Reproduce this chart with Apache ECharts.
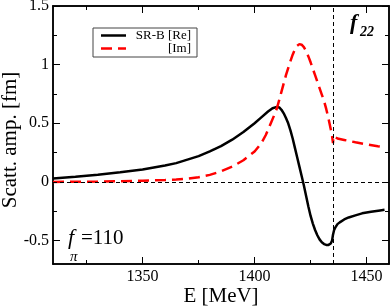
<!DOCTYPE html>
<html>
<head>
<meta charset="utf-8">
<script src="https://cdn.jsdelivr.net/npm/echarts@6/dist/echarts.min.js"></script>
<style>html,body{margin:0;padding:0;background:#fff;}#c{width:390px;height:306px;}</style>
</head>
<body>
<div id="c"></div>
<script>
// Energies (MeV) and amplitudes (fm)
var energyRe = [1310,1320,1330,1340,1350,1360,1365,1370,1375,1380,1385,1390,1395,1400,1403,1406,1408,1410,1411,1412,1413,1414,1415,1416,1417,1418,1419,1420,1421,1422,1423,1424,1425,1426,1427,1428,1429,1430,1431,1432,1433,1434,1434.6,1435,1435.5,1436,1437,1438,1440,1442,1445,1448,1452,1456,1458];
var ampRe    = [0.03,0.045,0.062,0.082,0.105,0.14,0.16,0.19,0.22,0.26,0.305,0.36,0.425,0.5,0.55,0.6,0.628,0.64,0.635,0.615,0.585,0.545,0.5,0.44,0.37,0.29,0.21,0.13,0.05,-0.03,-0.12,-0.21,-0.29,-0.355,-0.41,-0.455,-0.49,-0.515,-0.53,-0.537,-0.537,-0.525,-0.5,-0.45,-0.41,-0.39,-0.36,-0.345,-0.32,-0.303,-0.285,-0.268,-0.255,-0.243,-0.238];
var energyIm = [1310,1320,1330,1340,1350,1360,1365,1370,1375,1380,1385,1390,1395,1400,1403,1405,1407,1409,1410,1411,1412,1413,1414,1415,1416,1417,1418,1419,1420,1421,1422,1423,1424,1425,1426,1427,1428,1429,1430,1431,1432,1433,1434,1434.6,1435,1435.2,1437,1440,1445,1450,1455,1458];
var ampIm    = [0.0,0.001,0.003,0.006,0.01,0.016,0.02,0.027,0.04,0.06,0.09,0.13,0.185,0.26,0.33,0.4,0.49,0.58,0.63,0.7,0.77,0.84,0.91,0.97,1.03,1.085,1.13,1.16,1.175,1.17,1.15,1.115,1.07,1.02,0.965,0.91,0.855,0.8,0.745,0.69,0.62,0.54,0.45,0.39,0.33,0.39,0.37,0.358,0.338,0.32,0.305,0.298];
var seriesNames = ['SR-B [Re]', '[Im]'];
var thresholdE = 1435;
var xMajorTicks = [1350,1400,1450];
var xMinorTicks = [1325,1375,1425];
var yMajorTicks = [-0.5,0,0.5,1,1.5];
var yMinorTicks = [-0.25,0.25,0.75,1.25];

function pairs(xs, ys){ return xs.map(function(x,i){ return [x, ys[i]]; }); }

var FONT = 'Liberation Serif';
var axisLineStyle = {color:'#000', width:1.5};
function xAxisDef(pos, ticks, len, labels){
  return {
    type:'value', min:1310, max:1460, position:pos, gridIndex:0,
    axisLine:{show:true, onZero:false, lineStyle:axisLineStyle},
    axisTick:{show:true, inside:true, length:len, customValues:ticks, lineStyle:{color:'#000', width:1}},
    axisLabel:labels ? {show:true, customValues:ticks, fontFamily:FONT, fontSize:16, color:'#000', margin:5,
      formatter:function(v){ return String(v); }} : {show:false},
    splitLine:{show:false}
  };
}
function yAxisDef(pos, ticks, len, labels){
  return {
    type:'value', min:-0.7, max:1.5, position:pos, gridIndex:0,
    axisLine:{show:true, onZero:false, lineStyle:axisLineStyle},
    axisTick:{show:true, inside:true, length:len, customValues:ticks, lineStyle:{color:'#000', width:1}},
    axisLabel:labels ? {show:true, customValues:ticks, fontFamily:FONT, fontSize:16, color:'#000', margin:4,
      formatter:function(v){ return String(v); }} : {show:false},
    splitLine:{show:false}
  };
}

var xAxes = [xAxisDef('bottom', xMajorTicks, 7, true), xAxisDef('bottom', xMinorTicks, 4, false),
             xAxisDef('top', xMajorTicks, 7, false), xAxisDef('top', xMinorTicks, 4, false)];
xAxes[0].name = 'E [MeV]';
xAxes[0].nameLocation = 'middle';
xAxes[0].nameGap = 22;
xAxes[0].nameMoveOverlap = false;
xAxes[0].nameTextStyle = {fontFamily:FONT, fontSize:21, color:'#000'};
var yAxes = [yAxisDef('left', yMajorTicks, 7, true), yAxisDef('left', yMinorTicks, 4, false),
             yAxisDef('right', yMajorTicks, 7, false), yAxisDef('right', yMinorTicks, 4, false)];
yAxes[0].name = 'Scatt. amp. [fm]';
yAxes[0].nameLocation = 'middle';
yAxes[0].nameRotate = 90;
yAxes[0].nameGap = 32;
yAxes[0].nameMoveOverlap = false;
yAxes[0].nameTextStyle = {fontFamily:FONT, fontSize:21, color:'#000', padding:[0,10,0,0]};

var chart = echarts.init(document.getElementById('c'), null, {renderer:'canvas'});
chart.setOption({
  animation:false,
  backgroundColor:'#fff',
  grid:{left:53, right:1, top:6, bottom:42, containLabel:false, outerBoundsMode:'none'},
  xAxis:xAxes,
  yAxis:yAxes,
  legend:{
    show:true, left:93, top:28, orient:'vertical',
    data:[
      {name:seriesNames[0], icon:'path://M0,0h25v2.5h-25z'},
      {name:seriesNames[1], icon:'path://M0,0h11v2.5h-11zM17,0h8v2.5h-8z'}
    ],
    symbolKeepAspect:false,
    itemWidth:25, itemHeight:2.5, itemGap:0, itemTextGap:4,
    padding:[1,6,2,8],
    borderColor:'#444', borderWidth:1, backgroundColor:'#fff',
    formatter:function(n){ return '{r|' + n + '}'; },
    textStyle:{rich:{r:{width:60, align:'right', fontFamily:FONT, fontSize:13, lineHeight:14, color:'#000'}}}
  },
  graphic:[
    {type:'text', x:350, y:12, silent:true, style:{text:'f', font:'italic bold 22px "Liberation Serif"', fill:'#000', verticalAlign:'top'}},
    {type:'text', x:360, y:25, silent:true, style:{text:'22', font:'italic bold 14px "Liberation Serif"', fill:'#000', verticalAlign:'top'}},
    {type:'text', x:68, y:227, silent:true, style:{text:'f', font:'italic 22px "Liberation Serif"', fill:'#000', verticalAlign:'top'}},
    {type:'text', x:70, y:250, silent:true, style:{text:'π', font:'italic 15px "Liberation Serif"', fill:'#000', verticalAlign:'top'}},
    {type:'text', x:81, y:228, silent:true, style:{text:'=110', font:'21px "Liberation Serif"', fill:'#000', verticalAlign:'top'}}
  ],
  series:[
    {
      name:seriesNames[0], type:'line', xAxisIndex:0, yAxisIndex:0,
      data:pairs(energyRe, ampRe), symbol:'none', showSymbol:false, smooth:false,
      lineStyle:{color:'#000', width:2.5}, itemStyle:{color:'#000'}, z:3,
      markLine:{
        silent:true, symbol:['none','none'], label:{show:false}, animation:false,
        lineStyle:{color:'#000', width:1, type:[4,3]},
        data:[{yAxis:0}, {xAxis:thresholdE}]
      }
    },
    {
      name:seriesNames[1], type:'line', xAxisIndex:0, yAxisIndex:0,
      data:pairs(energyIm, ampIm), symbol:'none', showSymbol:false, smooth:false,
      lineStyle:{color:'#ff0000', width:2.5, type:[11,6]}, itemStyle:{color:'#ff0000'}, z:4
    }
  ]
});
</script>
</body>
</html>
